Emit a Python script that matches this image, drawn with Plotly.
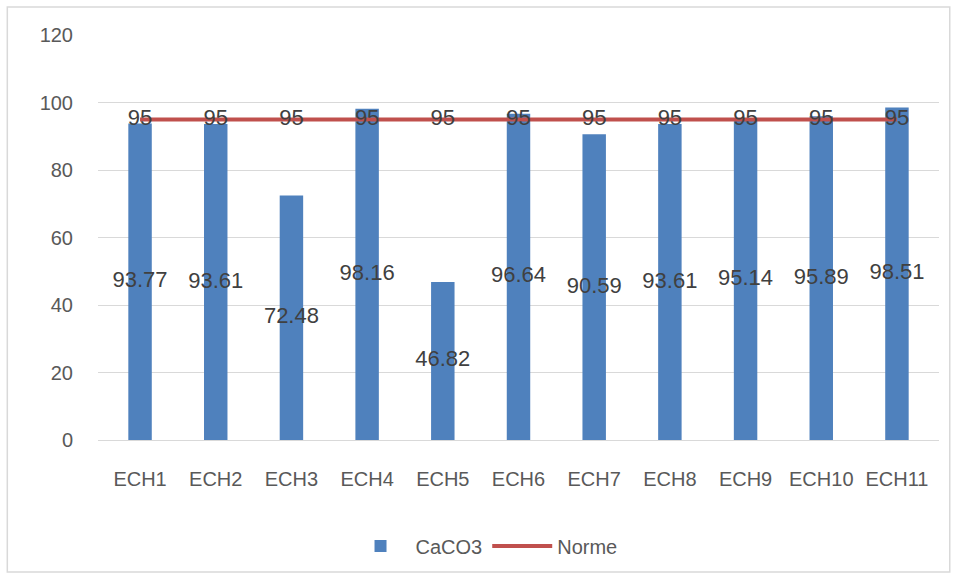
import plotly.graph_objects as go

categories = ["ECH1", "ECH2", "ECH3", "ECH4", "ECH5", "ECH6", "ECH7", "ECH8", "ECH9", "ECH10", "ECH11"]
caco3 = [93.77, 93.61, 72.48, 98.16, 46.82, 96.64, 90.59, 93.61, 95.14, 95.89, 98.51]
norme = [95] * len(categories)
y_ticks = [0, 20, 40, 60, 80, 100, 120]

FONT = "Liberation Sans"
W, H = 957, 578
L, R, T, B = 97.75, 17.75, 35, 138
pw, ph = W - L - R, H - T - B

fig = go.Figure()
fig.add_trace(go.Bar(
    x=categories, y=caco3, name="CaCO3",
    marker=dict(color="#4F81BD", line=dict(width=0)),
    width=0.31, hoverinfo="x+y",
))
fig.add_trace(go.Scatter(
    x=categories, y=[v / 2 for v in caco3], mode="text",
    text=[f"{v:.2f}" for v in caco3], textposition="middle center",
    textfont=dict(family=FONT, size=22, color="#404040"),
    showlegend=False, hoverinfo="skip",
))
fig.add_trace(go.Scatter(
    x=categories, y=norme, name="Norme", mode="lines+text",
    line=dict(color="#C0504D", width=4),
    text=[str(v) for v in norme], textposition="middle center",
    textfont=dict(family=FONT, size=22, color="#404040"),
))

def px_x(x):
    return (x - L) / pw

def px_y(y):
    return (H - B - y) / ph

fig.add_shape(type="rect", xref="paper", yref="paper",
              x0=px_x(7), x1=px_x(950), y0=px_y(572), y1=px_y(7),
              line=dict(color="#D9D9D9", width=1.5), fillcolor="rgba(0,0,0,0)", layer="below")

fig.update_layout(
    width=W, height=H,
    margin=dict(l=L, r=R, t=T, b=B, pad=0),
    paper_bgcolor="white", plot_bgcolor="white",
    font=dict(family=FONT, size=20, color="#595959"),
    showlegend=True,
    legend=dict(orientation="h", x=px_x(484), y=px_y(546), xanchor="center", yanchor="middle",
                font=dict(family=FONT, size=20, color="#595959"), itemwidth=60),
    xaxis=dict(showgrid=False, showline=False, ticks="", tickfont=dict(size=20, color="#595959"),
               ticklabelstandoff=25),
    yaxis=dict(range=[0, 120], tickvals=y_ticks, showgrid=True, gridcolor="#D9D9D9", gridwidth=1.3,
               zeroline=True, zerolinecolor="#D9D9D9", zerolinewidth=1.3, showline=False, ticks="",
               tickfont=dict(size=20, color="#595959"), ticklabelstandoff=24),
    bargap=0.69,
)

fig.write_html("out.html")
